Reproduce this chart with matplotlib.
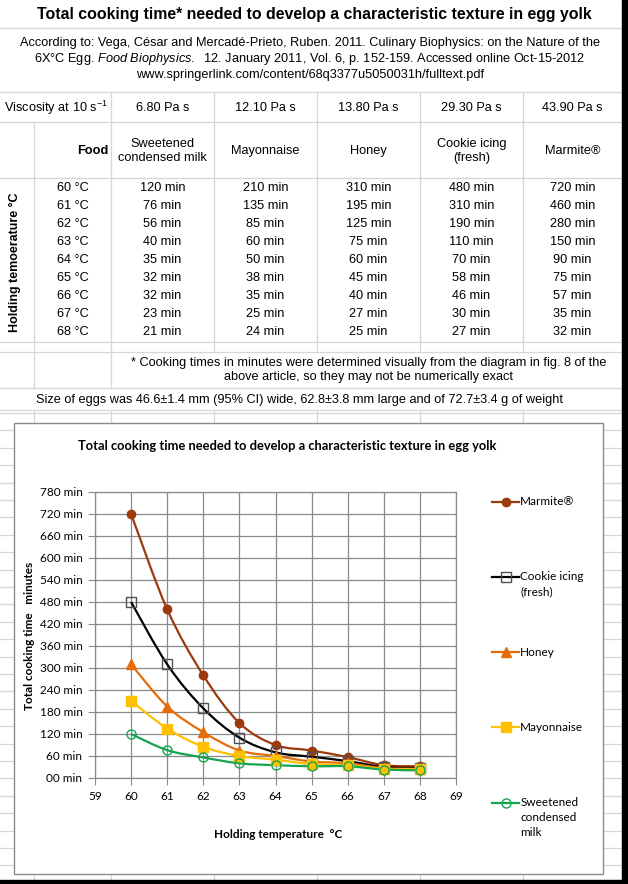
import matplotlib
matplotlib.use("Agg")
import matplotlib.pyplot as plt
from matplotlib.path import Path
from matplotlib.patches import PathPatch, Rectangle
from matplotlib.lines import Line2D
from matplotlib.ticker import FuncFormatter, MultipleLocator

plt.rcParams['font.family'] = ['Liberation Sans', 'DejaVu Sans']
plt.rcParams['mathtext.fontset'] = 'custom'
plt.rcParams['mathtext.rm'] = 'Liberation Sans'
plt.rcParams['mathtext.it'] = 'Liberation Sans:italic'
plt.rcParams['mathtext.bf'] = 'Liberation Sans:bold'

# ---- data ----
temps = [60, 61, 62, 63, 64, 65, 66, 67, 68]
foods = ["Sweetened\ncondensed milk", "Mayonnaise", "Honey", "Cookie icing\n(fresh)", "Marmite®"]
viscosity = [6.80, 12.10, 13.80, 29.30, 43.90]
milk = [120, 76, 56, 40, 35, 32, 32, 23, 21]
mayo = [210, 135, 85, 60, 50, 38, 35, 25, 24]
honey = [310, 195, 125, 75, 60, 45, 40, 27, 25]
icing = [480, 310, 190, 110, 70, 58, 46, 30, 27]
marmite = [720, 460, 280, 150, 90, 75, 57, 35, 32]
table_cols = [milk, mayo, honey, icing, marmite]

W, H = 628, 884
fig = plt.figure(figsize=(W / 100, H / 100), dpi=100)

# background "spreadsheet" in pixel coordinates
bg = fig.add_axes([0, 0, 1, 1])
bg.set_xlim(0, W)
bg.set_ylim(H, 0)
bg.axis('off')

grid_c = '#d2d6dd'
col_x = [0, 34, 111, 214, 317, 420, 523, 622]
col_mid = [(col_x[i] + col_x[i + 1]) / 2 for i in range(len(col_x) - 1)]


def hline(y, x0=0, x1=622, c=grid_c):
    bg.plot([x0, x1], [y, y], color=c, lw=0.9, zorder=1)


def vline(x, y0, y1, c=grid_c):
    bg.plot([x, x], [y0, y1], color=c, lw=0.9, zorder=1)


for y in [28, 92, 122, 178, 342, 352, 388, 410]:
    hline(y)
for x in col_x[2:7]:
    vline(x, 92, 352)
vline(34, 122, 388)
vline(111, 352, 388)

# sheet grid behind the chart
for i in range(27):
    hline(413 + i * 17.4)
for x in col_x[1:7]:
    vline(x, 410, 880)

# dark window border
bg.add_patch(Rectangle((622, 0), 6, H, color='black', zorder=6))
bg.add_patch(Rectangle((0, 880), W, 4, color='black', zorder=6))

fs = 9.2
bg.text(314, 14, "Total cooking time* needed to develop a characteristic texture in egg yolk",
        ha='center', va='center', fontsize=11.4, fontweight='bold')
bg.text(310, 43, "According to: Vega, César and Mercadé-Prieto, Ruben. 2011. Culinary Biophysics: on the Nature of the",
        ha='center', va='center', fontsize=fs)
bg.text(310, 59, r"6X°C Egg. $\it{Food\ Biophysics.}$  12. January 2011, Vol. 6, p. 152-159. Accessed online Oct-15-2012",
        ha='center', va='center', fontsize=fs)
bg.text(310, 75, "www.springerlink.com/content/68q3377u5050031h/fulltext.pdf",
        ha='center', va='center', fontsize=fs)

bg.text(4, 108, r"Viscosity at 10 s$^{-1}$", ha='left', va='center', fontsize=fs)
for i, v in enumerate(viscosity):
    bg.text(col_mid[i + 2], 108, f"{v:.2f} Pa s", ha='center', va='center', fontsize=fs)

bg.text(108, 151, "Food", ha='right', va='center', fontsize=fs, fontweight='bold')
for i, f in enumerate(foods):
    bg.text(col_mid[i + 2], 151, f, ha='center', va='center', fontsize=fs, linespacing=1.25)

bg.text(15, 262, "Holding temoerature °C", ha='center', va='center', rotation=90,
        fontsize=9, fontweight='bold')
for r, t in enumerate(temps):
    y = 188 + r * 18
    bg.text(col_mid[1], y, f"{t} °C", ha='center', va='center', fontsize=fs)
    for i, col in enumerate(table_cols):
        bg.text(col_mid[i + 2], y, f"{col[r]} min", ha='center', va='center', fontsize=fs)

bg.text(369, 370, "* Cooking times in minutes were determined visually from the diagram in fig. 8 of the\n"
        "above article, so they may not be numerically exact",
        ha='center', va='center', fontsize=fs, linespacing=1.25)
bg.text(300, 400, "Size of eggs was 46.6±1.4 mm (95% CI) wide, 62.8±3.8 mm large and of 72.7±3.4 g of weight",
        ha='center', va='center', fontsize=fs)

# chart frame
bg.add_patch(Rectangle((14, 423), 589, 451, facecolor='white', edgecolor='#8a8a8a', lw=1, zorder=3))

cfont = ['Lato', 'DejaVu Sans']
bg.text(287, 446, "Total cooking time needed to develop a characteristic texture in egg yolk",
        ha='center', va='center', fontsize=9.3, fontweight='bold', family=cfont, zorder=4)

# ---- chart ----
ax = fig.add_axes([95 / W, 1 - 778 / H, (456 - 95) / W, (778 - 492) / H], zorder=5)
ax.set_facecolor('white')


def smooth_path(xs, ys):
    # Bezier curve through the points (like Excel's smoothed line)
    n = len(xs)
    verts = [(xs[0], ys[0])]
    codes = [Path.MOVETO]
    for i in range(n - 1):
        a = max(i - 1, 0)
        d = min(i + 2, n - 1)
        c1 = (xs[i] + (xs[i + 1] - xs[a]) / 6, ys[i] + (ys[i + 1] - ys[a]) / 6)
        c2 = (xs[i + 1] - (xs[d] - xs[i]) / 6, ys[i + 1] - (ys[d] - ys[i]) / 6)
        verts += [c1, c2, (xs[i + 1], ys[i + 1])]
        codes += [Path.CURVE4] * 3
    return Path(verts, codes)


series = [
    ("\n\nMarmite®\n\n", marmite, '#9c3a0e', dict(marker='o', ms=6, mfc='#9c3a0e', mec='#9c3a0e')),
    ("\n\nCookie icing\n(fresh)\n", icing, '#000000', dict(marker='s', ms=6.5, mfc='none', mec='#505050', mew=1)),
    ("\n\nHoney\n\n", honey, '#e46c0a', dict(marker='^', ms=6.5, mfc='#e46c0a', mec='#e46c0a')),
    ("\n\nMayonnaise\n\n", mayo, '#ffc000', dict(marker='s', ms=7, mfc='#ffc000', mec='#ffc000')),
    ("\n\nSweetened\ncondensed\nmilk", milk, '#14a550', dict(marker='o', ms=6.5, mfc='none', mec='#14a550', mew=1)),
]

handles = []
for label, vals, color, mk in series:
    ax.add_patch(PathPatch(smooth_path(temps, vals), fill=False, edgecolor=color, lw=1.6))
    ax.plot(temps, vals, linestyle='none', **mk)
    handles.append(Line2D([], [], color=color, lw=1.6, label=label, **mk))

ax.set_xlim(59, 69)
ax.set_ylim(0, 780)
ax.xaxis.set_major_locator(MultipleLocator(1))
ax.yaxis.set_major_locator(MultipleLocator(60))
ax.yaxis.set_major_formatter(FuncFormatter(lambda v, p: f"{int(v):02d} min"))
ax.grid(True, color='#8a8a8a', lw=0.9)
ax.set_axisbelow(True)
for s in ax.spines.values():
    s.set_color('#8a8a8a')
    s.set_linewidth(0.9)
ax.tick_params(axis='both', direction='out', length=5, color='#8a8a8a', labelsize=8.5, pad=4)
for t in ax.get_xticklabels() + ax.get_yticklabels():
    t.set_family(cfont)

bg.text(30, 636, "Total cooking time   minutes", rotation=90, ha='center', va='center',
        fontsize=8.5, fontweight='bold', family=cfont, zorder=4)
bg.text(278, 834, "Holding temperature  °C", ha='center', va='center',
        fontsize=8.5, fontweight='bold', family=cfont, zorder=4)

leg = ax.legend(handles=handles, loc='center left', bbox_to_anchor=(492 / W, 1 - 652 / H),
                bbox_transform=fig.transFigure, frameon=False, borderpad=0, borderaxespad=0,
                handlelength=2.3, handletextpad=0.1, labelspacing=0.33, numpoints=1,
                prop={'family': cfont, 'size': 8.5})
for t in leg.get_texts():
    t.set_linespacing(1.45)

fig.savefig("out.png", dpi=100)
